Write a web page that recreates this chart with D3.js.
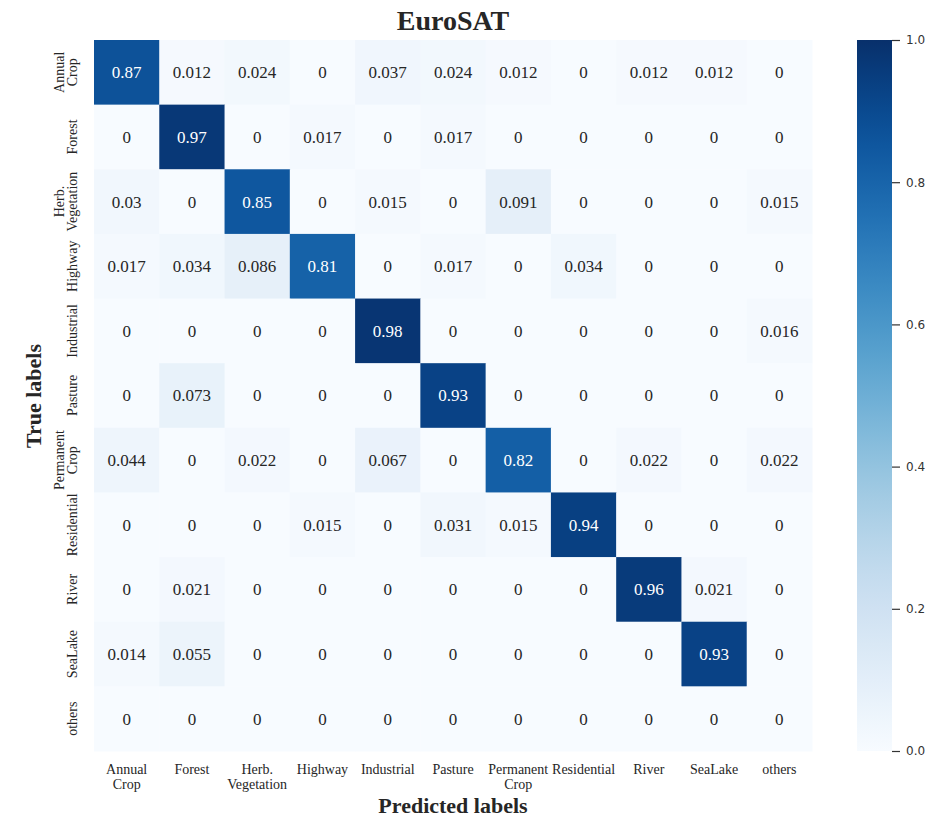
<!DOCTYPE html>
<html>
<head>
<meta charset="utf-8">
<script src="https://cdn.jsdelivr.net/npm/d3@7"></script>
<style>
  body { margin: 0; background: #fff; }
  svg { display: block; }
</style>
</head>
<body>
<div id="plot"></div>
<script>
let svgWidth = 933;
let svgHeight = 818;
let margin = { top: 40, left: 94 };
let w = 718;
let h = 711;

// class labels, "\n" marks a line break
let classes = ['Annual\nCrop', 'Forest', 'Herb.\nVegetation', 'Highway', 'Industrial', 'Pasture',
               'Permanent\nCrop', 'Residential', 'River', 'SeaLake', 'others'];

// normalised confusion matrix, rows = true, cols = predicted
let rowAnnualCrop   = [0.87, 0.012, 0.024, 0, 0.037, 0.024, 0.012, 0, 0.012, 0.012, 0];
let rowForest       = [0, 0.97, 0, 0.017, 0, 0.017, 0, 0, 0, 0, 0];
let rowHerbVeg      = [0.03, 0, 0.85, 0, 0.015, 0, 0.091, 0, 0, 0, 0.015];
let rowHighway      = [0.017, 0.034, 0.086, 0.81, 0, 0.017, 0, 0.034, 0, 0, 0];
let rowIndustrial   = [0, 0, 0, 0, 0.98, 0, 0, 0, 0, 0, 0.016];
let rowPasture      = [0, 0.073, 0, 0, 0, 0.93, 0, 0, 0, 0, 0];
let rowPermanent    = [0.044, 0, 0.022, 0, 0.067, 0, 0.82, 0, 0.022, 0, 0.022];
let rowResidential  = [0, 0, 0, 0.015, 0, 0.031, 0.015, 0.94, 0, 0, 0];
let rowRiver        = [0, 0.021, 0, 0, 0, 0, 0, 0, 0.96, 0.021, 0];
let rowSeaLake      = [0.014, 0.055, 0, 0, 0, 0, 0, 0, 0, 0.93, 0];
let rowOthers       = [0, 0, 0, 0, 0, 0, 0, 0, 0, 0, 0];

let matrix = [rowAnnualCrop, rowForest, rowHerbVeg, rowHighway, rowIndustrial, rowPasture,
              rowPermanent, rowResidential, rowRiver, rowSeaLake, rowOthers];

let colorbarTicks = [0.0, 0.2, 0.4, 0.6, 0.8, 1.0];

let serif = '"Liberation Serif", "Times New Roman", serif';

let cells = [];
matrix.forEach((row, i) => {
    row.forEach((v, j) => {
        cells.push({ r: i, c: j, v: v });
    });
});

let svg = d3.select('#plot')
    .append('svg')
    .attr('width', svgWidth)
    .attr('height', svgHeight);

let chart = svg.append('g')
    .attr('transform', `translate(${margin.left},${margin.top})`);

let x = d3.scaleBand().domain(d3.range(classes.length)).range([0, w]);
let y = d3.scaleBand().domain(d3.range(classes.length)).range([0, h]);
let color = d3.scaleSequential(d3.interpolateBlues).domain([0, 1]);

chart.selectAll('rect.cell')
    .data(cells)
    .join('rect')
    .attr('class', 'cell')
    .attr('x', d => x(d.c))
    .attr('y', d => y(d.r))
    .attr('width', x.bandwidth() + 0.5)
    .attr('height', y.bandwidth() + 0.5)
    .attr('fill', d => color(d.v));

chart.selectAll('text.val')
    .data(cells)
    .join('text')
    .attr('class', 'val')
    .attr('x', d => x(d.c) + x.bandwidth() / 2)
    .attr('y', d => y(d.r) + y.bandwidth() / 2)
    .attr('text-anchor', 'middle')
    .attr('dy', '0.35em')
    .style('font-family', serif)
    .style('font-size', '17px')
    .attr('fill', d => d.v > 0.5 ? '#fff' : '#262626')
    .text(d => String(d.v));

// x tick labels
let xLab = chart.append('g')
    .selectAll('text')
    .data(classes)
    .join('text')
    .attr('text-anchor', 'middle')
    .attr('transform', (d, i) => `translate(${x(i) + x.bandwidth() / 2},${h + 23})`)
    .style('font-family', serif)
    .style('font-size', '14px')
    .attr('fill', '#262626');

xLab.each(function(d) {
    let lines = d.split('\n');
    d3.select(this).selectAll('tspan')
        .data(lines)
        .join('tspan')
        .attr('x', 0)
        .attr('dy', (l, k) => k === 0 ? 0 : '1.05em')
        .text(l => l);
});

// y tick labels (rotated)
let yLab = chart.append('g')
    .selectAll('text')
    .data(classes)
    .join('text')
    .attr('text-anchor', 'middle')
    .attr('transform', (d, i) => {
        let n = d.split('\n').length;
        let xoff = n === 1 ? -17 : -30;
        return `translate(${xoff},${y(i) + y.bandwidth() / 2}) rotate(-90)`;
    })
    .style('font-family', serif)
    .style('font-size', '14px')
    .attr('fill', '#262626');

yLab.each(function(d) {
    let lines = d.split('\n');
    d3.select(this).selectAll('tspan')
        .data(lines)
        .join('tspan')
        .attr('x', 0)
        .attr('dy', (l, k) => k === 0 ? 0 : '0.95em')
        .text(l => l);
});

// titles
svg.append('text')
    .attr('x', 453)
    .attr('y', 30)
    .attr('text-anchor', 'middle')
    .style('font-family', serif)
    .style('font-weight', 'bold')
    .style('font-size', '28px')
    .attr('fill', '#262626')
    .text('EuroSAT');

svg.append('text')
    .attr('x', 453)
    .attr('y', 813)
    .attr('text-anchor', 'middle')
    .style('font-family', serif)
    .style('font-weight', 'bold')
    .style('font-size', '22px')
    .attr('fill', '#262626')
    .text('Predicted labels');

svg.append('text')
    .attr('transform', 'translate(41,396) rotate(-90)')
    .attr('text-anchor', 'middle')
    .style('font-family', serif)
    .style('font-weight', 'bold')
    .style('font-size', '22px')
    .attr('fill', '#262626')
    .text('True labels');

// colorbar
let cbX = 857, cbW = 35, cbTop = 40, cbBot = 751;
let cbScale = d3.scaleLinear().domain([0, 1]).range([cbBot, cbTop]);

let defs = svg.append('defs');
let grad = defs.append('linearGradient')
    .attr('id', 'cbgrad')
    .attr('x1', 0).attr('y1', 1).attr('x2', 0).attr('y2', 0);
grad.selectAll('stop')
    .data(d3.range(0, 1.0001, 0.05))
    .join('stop')
    .attr('offset', d => d)
    .attr('stop-color', d => color(d));

svg.append('rect')
    .attr('x', cbX)
    .attr('y', cbTop)
    .attr('width', cbW)
    .attr('height', cbBot - cbTop)
    .attr('fill', 'url(#cbgrad)');

let cbAxis = d3.axisRight(cbScale)
    .tickValues(colorbarTicks)
    .tickFormat(d3.format('.1f'))
    .tickSize(8)
    .tickPadding(6);

let cbG = svg.append('g')
    .attr('transform', `translate(${cbX + cbW},0)`)
    .call(cbAxis);
cbG.select('.domain').remove();
cbG.selectAll('line').attr('stroke', '#333').attr('stroke-width', 1.2);
cbG.selectAll('text')
    .style('font-family', '"DejaVu Sans", sans-serif')
    .style('font-size', '12px')
    .attr('fill', '#333');
</script>
</body>
</html>
